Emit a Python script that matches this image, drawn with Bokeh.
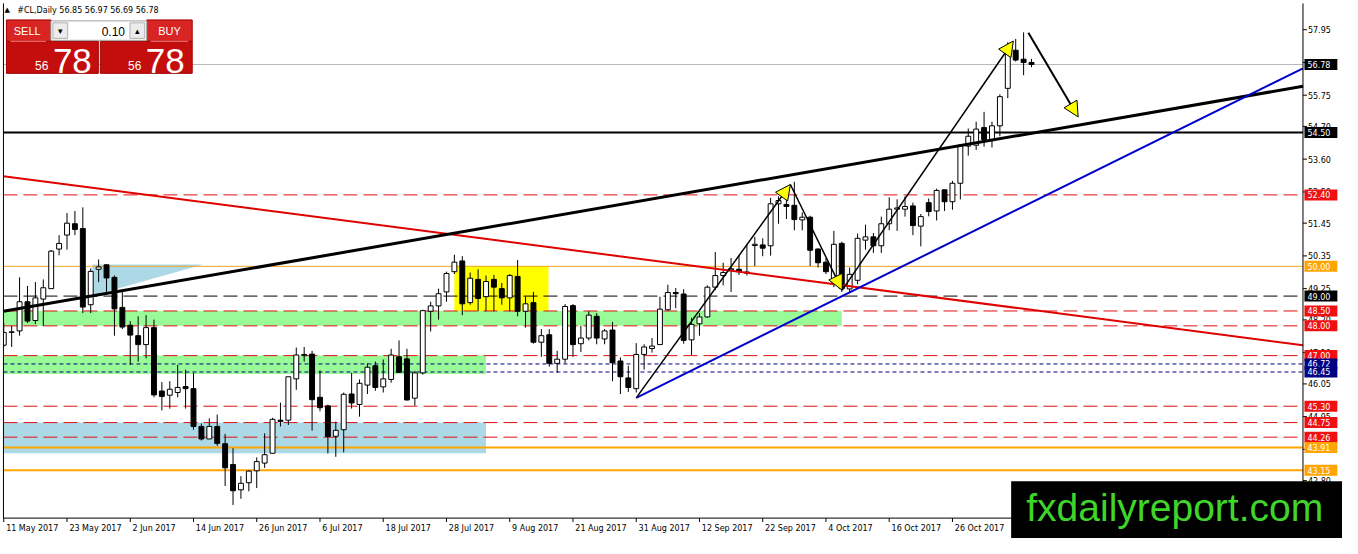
from bokeh.plotting import figure
from bokeh.models import Range1d, Label, Arrow, NormalHead, ColumnDataSource
from bokeh.core.properties import value
from bokeh.embed import file_html
from bokeh.resources import INLINE

# ---------------- data ----------------
title_text = "#CL,Daily  56.85 56.97 56.69 56.78"
date_labels = ["11 May 2017", "23 May 2017", "2 Jun 2017", "14 Jun 2017", "26 Jun 2017",
               "6 Jul 2017", "18 Jul 2017", "28 Jul 2017", "9 Aug 2017", "21 Aug 2017",
               "31 Aug 2017", "12 Sep 2017", "22 Sep 2017", "4 Oct 2017", "16 Oct 2017",
               "26 Oct 2017"]
date_label_bars = [0, 8, 16, 24, 32, 40, 48, 56, 64, 72, 80, 88, 96, 104, 112, 120]
price_ticks = [57.95, 56.85, 55.75, 54.70, 53.60, 52.50, 51.45, 50.35, 49.25, 48.20,
               47.10, 46.05, 44.95, 43.85, 42.80]

opens = [47.35, 47.78, 47.83, 48.81, 48.18, 48.90, 49.25, 50.58, 51.05, 51.43,
         51.27, 48.71, 49.90, 50.05, 49.63, 48.62, 48.02, 47.67, 47.37, 47.94,
         45.81, 45.67, 45.76, 45.96, 45.89, 44.62, 44.20, 44.62, 44.04, 43.34,
         42.49, 42.73, 43.13, 43.39, 43.72, 44.83, 44.83, 46.22, 47.00, 47.05,
         45.60, 45.31, 44.29, 44.51, 45.71, 45.36, 46.01, 46.66, 45.95, 46.20,
         46.96, 46.89, 45.57, 46.42, 48.49, 48.67, 49.14, 49.82, 50.18, 48.78,
         49.56, 48.98, 49.56, 49.25, 48.94, 49.66, 48.49, 48.78, 47.45, 47.70,
         46.74, 46.88, 48.68, 47.40, 47.59, 48.32, 47.56, 47.86, 46.82, 46.25,
         45.89, 47.04, 47.24, 47.37, 48.54, 49.12, 49.07, 47.53, 48.07, 48.30,
         49.30, 49.69, 49.88, 49.90, 49.77, 50.70, 50.72, 50.69, 52.10, 52.08,
         52.05, 51.56, 51.65, 50.58, 50.14, 49.47, 50.77, 49.24, 49.53, 50.88,
         50.99, 50.69, 51.43, 51.92, 51.92, 52.03, 51.35, 52.14, 51.86, 52.57,
         52.17, 52.79, 54.04, 54.07, 54.66, 54.26, 54.72, 55.98, 57.26, 56.96,
         56.85]
highs = [48.10, 48.00, 49.63, 49.34, 49.47, 49.56, 50.55, 51.05, 51.79, 51.86,
         51.98, 49.93, 50.23, 50.07, 49.69, 49.14, 48.16, 48.32, 48.36, 48.21,
         46.11, 46.14, 46.69, 46.53, 46.42, 44.72, 44.89, 45.02, 44.37, 43.89,
         42.95, 43.15, 43.58, 44.39, 44.91, 45.42, 46.29, 47.27, 47.29, 47.16,
         46.50, 45.35, 44.78, 45.76, 46.42, 46.20, 46.74, 46.80, 46.87, 47.23,
         47.51, 47.23, 46.49, 48.54, 48.81, 49.25, 49.82, 50.39, 50.34, 49.79,
         49.90, 49.69, 49.71, 49.44, 49.74, 50.21, 48.98, 49.14, 47.89, 47.89,
         47.16, 48.73, 48.73, 48.00, 48.49, 48.43, 47.89, 48.13, 46.94, 46.66,
         47.42, 47.38, 47.59, 48.98, 49.38, 49.27, 49.23, 48.27, 48.43, 49.36,
         50.48, 50.12, 50.28, 50.36, 50.72, 50.99, 50.94, 52.30, 52.35, 52.28,
         52.84, 51.81, 51.70, 50.61, 50.28, 51.19, 50.83, 49.96, 51.10, 51.40,
         51.12, 51.67, 52.32, 52.25, 52.35, 52.14, 51.76, 52.28, 52.61, 52.57,
         52.87, 54.07, 54.63, 54.86, 55.19, 54.86, 55.78, 57.53, 57.64, 57.86,
         56.97]
lows = [47.29, 47.29, 47.67, 48.10, 48.06, 47.99, 49.24, 50.37, 50.56, 51.05,
        48.43, 48.43, 49.47, 49.14, 47.67, 47.89, 46.69, 46.80, 46.91, 45.60,
        45.16, 45.22, 45.60, 45.22, 44.51, 44.15, 44.20, 43.97, 42.62, 41.98,
        42.19, 42.44, 42.55, 43.23, 43.72, 44.62, 44.67, 45.85, 46.80, 44.48,
        45.13, 43.71, 43.60, 43.75, 45.22, 44.95, 45.71, 45.82, 45.76, 46.09,
        46.42, 45.49, 45.32, 46.36, 47.81, 48.21, 48.81, 49.74, 48.36, 48.71,
        48.49, 48.49, 48.49, 48.71, 48.49, 48.32, 47.94, 47.40, 46.96, 46.63,
        46.42, 46.74, 46.96, 47.12, 47.51, 47.38, 47.38, 46.14, 45.71, 45.78,
        45.76, 46.53, 47.10, 47.37, 48.51, 48.59, 47.40, 47.02, 47.67, 48.27,
        49.20, 49.36, 49.14, 49.71, 49.69, 50.01, 50.34, 50.36, 51.43, 51.59,
        51.21, 51.21, 50.01, 49.96, 49.74, 49.30, 49.14, 49.14, 49.40, 50.56,
        50.45, 50.45, 51.21, 51.19, 51.67, 51.05, 50.67, 51.68, 51.54, 51.86,
        51.90, 52.25, 53.72, 53.91, 54.02, 53.99, 54.37, 55.65, 56.88, 56.42,
        56.69]
closes = [47.78, 47.80, 48.81, 48.16, 48.94, 49.28, 50.51, 50.77, 51.45, 51.24,
          48.63, 49.83, 49.98, 49.61, 48.57, 47.96, 47.69, 47.37, 47.94, 45.68,
          45.63, 45.87, 45.93, 45.89, 44.62, 44.20, 44.62, 44.05, 43.23, 42.46,
          42.71, 43.12, 43.44, 43.67, 44.86, 44.79, 46.29, 47.02, 47.04, 45.52,
          45.25, 44.28, 44.49, 45.70, 45.41, 46.07, 46.61, 45.93, 46.22, 47.02,
          46.44, 45.51, 46.42, 48.51, 48.67, 49.08, 49.76, 50.14, 48.74, 49.60,
          48.92, 49.49, 49.30, 48.94, 49.69, 48.49, 48.74, 47.45, 47.67, 46.74,
          46.88, 48.65, 47.37, 47.59, 48.36, 47.59, 47.83, 46.76, 46.29, 45.93,
          47.04, 47.29, 47.32, 48.56, 49.12, 49.08, 47.51, 48.05, 48.30, 49.30,
          49.69, 49.79, 49.92, 49.82, 49.81, 50.74, 50.61, 52.10, 52.21, 52.01,
          51.57, 51.65, 50.54, 50.12, 49.82, 50.74, 49.25, 49.73, 50.94, 50.99,
          50.69, 51.43, 51.92, 51.96, 52.01, 51.37, 51.67, 51.84, 52.55, 52.17,
          52.79, 54.07, 54.37, 54.61, 54.26, 54.72, 55.70, 57.26, 56.93, 56.85,
          56.78]

# horizontal levels
level_prices = [56.78, 54.50, 52.40, 50.00, 49.00, 48.50, 48.00, 47.00, 46.72, 46.45,
                45.30, 44.75, 44.26, 43.91, 43.15]
level_kinds = ["price", "black", "red", "orange", "blackdash", "red", "red", "red",
               "navy", "navy", "red", "red", "red", "orange2", "orange2"]

# zones (bar_from, bar_to, price_low, price_high, colour)
zone_bar_from = [-0.04, -0.04, -0.04, 57.0]
zone_bar_to = [106.0, 61.0, 61.0, 68.9]
zone_low = [48.00, 46.38, 43.72, 48.50]
zone_high = [48.50, 47.00, 44.75, 50.00]
zone_colors = ["#98fb98", "#98fb98", "#add8e6", "#ffff00"]
tri_bars = [11.2, 25.2, 11.2]
tri_prices = [50.06, 50.06, 49.01]

# trend lines (two anchor points each)
trend_x0 = [-0.04, -0.04, 80.0]
trend_y0 = [53.03, 48.49, 45.58]
trend_x1 = [164.34, 164.34, 164.34]
trend_y1 = [47.35, 56.05, 56.65]
trend_colors = ["#e00000", "#000000", "#0000cc"]
trend_widths = [2, 3, 2]

# arrows
arrow_x0 = [80.0, 99.5, 106.05, 129.6]
arrow_y0 = [45.58, 52.75, 49.20, 57.85]
arrow_x1 = [99.5, 106.05, 127.7, 135.9]
arrow_y1 = [52.75, 49.20, 57.57, 55.02]


# ---------------- helpers: reference pixel -> data ----------------
def bx(px):
    return (px - 3.3) / 8.0


def py(pix):
    return 50.35 - (pix - 263.0) / 30.65


FONT = "DejaVu Sans"
XL, XR, YT, YB = 3, 1318, 3, 533   # chart frame in reference pixels

p = figure(width=1342, height=538, x_range=Range1d(bx(0), bx(1358)),
           y_range=Range1d(py(554), py(0)), output_backend="svg", toolbar_location=None,
           x_axis_location=None, y_axis_location=None, min_border=0)
p.xgrid.visible = False
p.ygrid.visible = False
p.outline_line_color = None
p.background_fill_color = "white"
p.border_fill_color = "white"

# zones
p.quad(left=zone_bar_from, right=zone_bar_to, bottom=zone_low, top=zone_high,
       fill_color=zone_colors, line_color=None)
p.patch(tri_bars, tri_prices, fill_color="#add8e6", line_color=None)

# horizontal levels
line_style = {
    "price": ("#b8b8b8", 1, "solid"),
    "black": ("#000000", 2, "solid"),
    "red": ("#e01010", 1, "14 6"),
    "orange": ("#f5a623", 1, "solid"),
    "blackdash": ("#000000", 1, "14 6"),
    "navy": ("#000080", 1, "4 3"),
    "orange2": ("#ffa500", 2, "solid"),
}
label_bg = {
    "price": "#000000", "black": "#000000", "red": "#f01010", "orange": "#ffa500",
    "blackdash": "#000000", "navy": "#000080", "orange2": "#ffa500",
}
for lp, kind in zip(level_prices, level_kinds):
    col, w, dash = line_style[kind]
    p.segment(x0=[bx(XL)], y0=[lp], x1=[bx(XR)], y1=[lp], line_color=col, line_width=w,
              line_dash=dash)

# candles
inc = [c >= o for o, c in zip(opens, closes)]
src = ColumnDataSource(dict(
    x=list(range(len(opens))), o=opens, h=highs, l=lows, c=closes,
    top=[max(o, c) for o, c in zip(opens, closes)],
    bot=[min(o, c) for o, c in zip(opens, closes)],
    fill=["white" if u else "black" for u in inc]))
p.segment(x0="x", y0="l", x1="x", y1="h", source=src, line_color="black", line_width=1)
p.vbar(x="x", width=0.62, top="top", bottom="bot", source=src, fill_color="fill",
       line_color="black", line_width=1)

# trend lines
for x0, y0, x1, y1, col, w in zip(trend_x0, trend_y0, trend_x1, trend_y1,
                                   trend_colors, trend_widths):
    p.line([x0, x1], [y0, y1], line_color=col, line_width=w)

# mask left of the frame border
p.quad(left=[bx(-10)], right=[bx(XL)], bottom=[py(560)], top=[py(-5)],
       fill_color="white", line_color=None)

# frame lines (left border, price axis, time axis)
p.segment(x0=[bx(XL), bx(XR), bx(XL)], y0=[py(YT), py(YT), py(YB)],
          x1=[bx(XL), bx(XR), bx(XR)], y1=[py(YB), py(YB), py(YB)],
          line_color="black", line_width=1)

# price axis ticks & labels
p.segment(x0=[bx(XR)] * len(price_ticks), y0=price_ticks,
          x1=[bx(XR + 4)] * len(price_ticks), y1=price_ticks, line_color="black")
p.text(x=[bx(XR + 5)] * len(price_ticks), y=price_ticks,
       text=["%.2f" % t for t in price_ticks], text_font=value(FONT),
       text_font_size=value("8px"), text_color="black", text_align="left",
       text_baseline="middle")

# time axis ticks & labels
p.segment(x0=date_label_bars, y0=[py(YB)] * len(date_label_bars),
          x1=date_label_bars, y1=[py(YB + 4)] * len(date_label_bars), line_color="black")
p.text(x=[b + 0.3 for b in date_label_bars], y=[py(544)] * len(date_label_bars),
       text=date_labels, text_font=value(FONT), text_font_size=value("8px"),
       text_color="black", text_align="left", text_baseline="middle")

# arrows
for i, (x0, y0, x1, y1) in enumerate(zip(arrow_x0, arrow_y0, arrow_x1, arrow_y1)):
    p.add_layout(Arrow(x_start=x0, y_start=y0, x_end=x1, y_end=y1,
                       line_color="black", line_width=2 if i == 3 else 1.5,
                       end=NormalHead(size=15, fill_color="#ffff00", line_color="black",
                                      line_width=1)))

# price labels on the axis
for lp, kind in zip(level_prices, level_kinds):
    p.add_layout(Label(x=bx(XR + 1.5), y=lp, text="%.2f" % lp, text_font=FONT,
                       text_font_size="8px", text_color="white", text_align="left",
                       text_baseline="middle", background_fill_color=label_bg[kind],
                       background_fill_alpha=1.0,
                       padding=dict(left=3, right=7, top=2, bottom=2)))

# title
p.add_layout(Label(x=bx(4), y=py(10), text="\u25b2", text_font=FONT, text_font_size="7px",
                   text_color="black", text_baseline="middle"))
p.add_layout(Label(x=bx(17), y=py(10), text=title_text, text_font=FONT,
                   text_font_size="8px", text_color="black", text_baseline="middle"))

# one-click trading panel
p.quad(left=[bx(6), bx(101)], right=[bx(99), bx(194)], top=[py(42), py(42)],
       bottom=[py(75), py(75)], fill_color="#c40d0d", line_color="#a00000")
p.quad(left=[bx(6), bx(148)], right=[bx(51), bx(194)], top=[py(20), py(20)],
       bottom=[py(42), py(42)], fill_color="#d92424", line_color="#a00000")
p.quad(left=[bx(51)], right=[bx(148)], top=[py(21)], bottom=[py(41)],
       fill_color="white", line_color="#a0a0a0")
p.quad(left=[bx(53), bx(131)], right=[bx(68), bx(146)], top=[py(23), py(23)],
       bottom=[py(39), py(39)], fill_color="#ececec", line_color="#b0b0b0")
p.segment(x0=[bx(10), bx(152)], y0=[py(42), py(42)], x1=[bx(46), bx(190)],
          y1=[py(42), py(42)], line_color="#f08080", line_width=1)
for tx, txt in [(60.5, "\u25be"), (138.5, "\u25b4")]:
    p.add_layout(Label(x=bx(tx), y=py(31), text=txt, text_font=FONT, text_font_size="9px",
                       text_color="black", text_align="center", text_baseline="middle"))
p.add_layout(Label(x=bx(126), y=py(31.5), text="0.10", text_font="Liberation Sans",
                   text_font_size="12px", text_color="black", text_align="right",
                   text_baseline="middle"))
p.add_layout(Label(x=bx(27), y=py(31.5), text="SELL", text_font="Liberation Sans",
                   text_font_size="11px", text_color="white", text_align="center",
                   text_baseline="middle"))
p.add_layout(Label(x=bx(171), y=py(31.5), text="BUY", text_font="Liberation Sans",
                   text_font_size="11px", text_color="white", text_align="center",
                   text_baseline="middle"))
for sx, bxp in [(35, 53), (129, 147)]:
    p.add_layout(Label(x=bx(sx), y=py(66.5), text="56", text_font="Liberation Sans",
                       text_font_size="12px", text_color="white",
                       text_baseline="middle"))
    p.add_layout(Label(x=bx(bxp), y=py(62.5), text="78", text_font="Liberation Sans",
                       text_font_size="35px", text_color="white",
                       text_baseline="middle"))

# watermark: black plate + green text
p.quad(left=[bx(1022.7)], right=[bx(1400)], top=[py(495)], bottom=[py(570)],
       fill_color="black", line_color=None)
p.add_layout(Label(x=bx(1038), y=py(522.5), text="fxdailyreport.com",
                   text_font="Liberation Sans", text_font_size="39px",
                   text_color="#3fd52a", text_align="left", text_baseline="middle"))

open("out.html", "w").write(file_html(p, INLINE))
